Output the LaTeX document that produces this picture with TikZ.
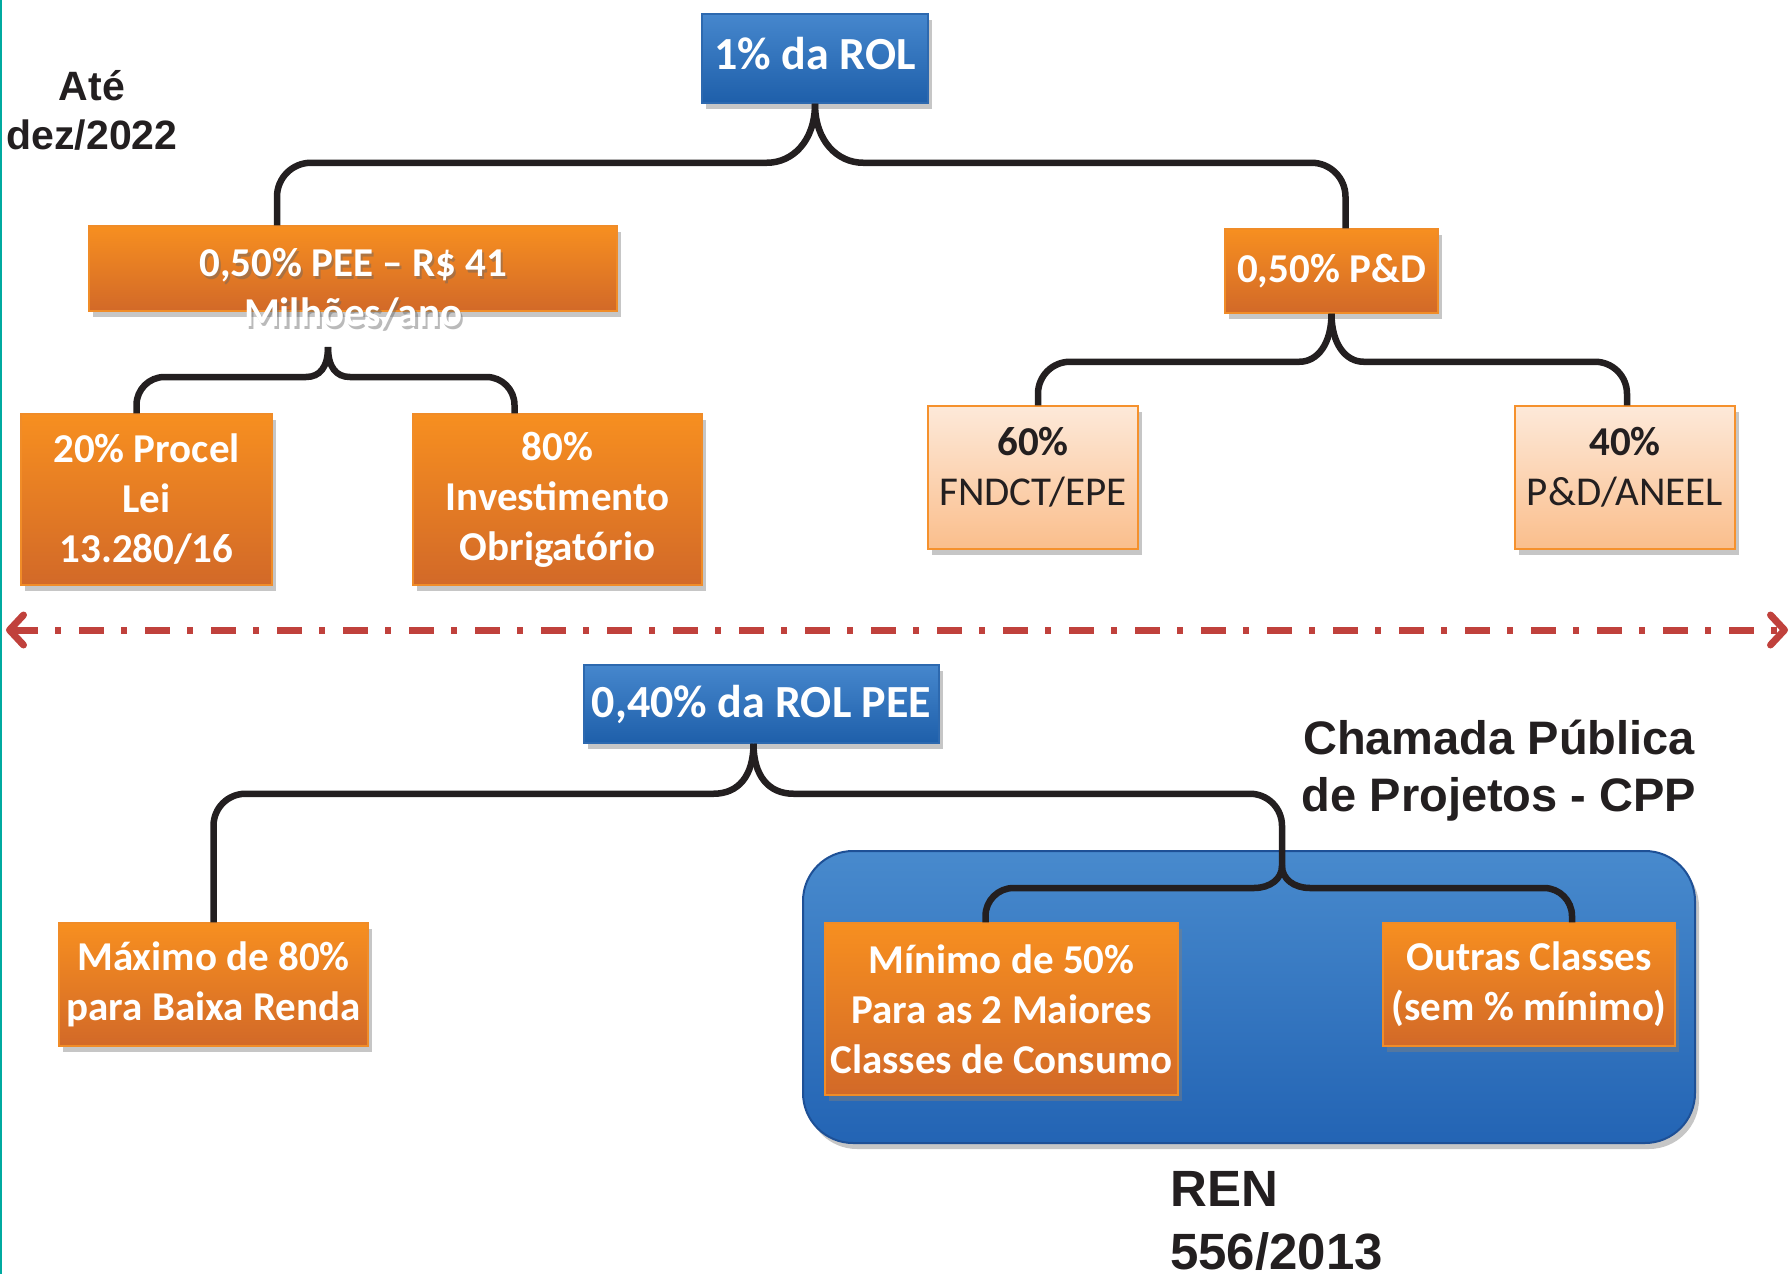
\documentclass[tikz,border=0pt]{standalone}
\usepackage{fontspec}
\setmainfont{Carlito}
\newfontfamily\labelfont{Liberation Sans}
\usetikzlibrary{shadows,arrows.meta}

\begin{document}
\begin{tikzpicture}[x=1pt,y=-1pt,
	boxshadow/.style={drop shadow={opacity=0.45,shadow xshift=4pt,shadow yshift=-6pt}},
	bluebox/.style={draw=cblueedge,line width=1.5pt,top color=cbluetop,bottom color=cbluebot,text=white,font=\bfseries\fontsize{46}{55}\selectfont,inner sep=0pt,boxshadow},
	orangebox/.style={draw=corangeedge,line width=1.5pt,top color=corangetop,bottom color=corangebot,text=white,font=\bfseries\fontsize{41}{50}\selectfont,align=center,inner sep=0pt,boxshadow},
	peachbox/.style={draw=cpeachedge,line width=1.5pt,top color=cpeachtop,bottom color=cpeachbot,inner sep=0pt,boxshadow},
	peachtext/.style={text=ctext,font=\fontsize{41}{50}\selectfont,align=center,inner sep=0pt},
	bigtext/.style={text=ctext,font=\labelfont\bfseries,inner sep=0pt},
	brace/.style={draw=cbrace,line width=6.5pt},
	split/.style={draw=cdash,line width=7pt,dash pattern=on 25pt off 17pt on 6pt off 18pt,{Straight Barb[length=14pt,width=30pt,round]}-{Straight Barb[length=14pt,width=30pt,round]}}]
\definecolor{cbluetop}{RGB}{70,135,205}      %box blue
\definecolor{cbluebot}{RGB}{30,95,170}
\definecolor{cblueedge}{RGB}{45,105,175}
\definecolor{corangetop}{RGB}{247,143,32}    %orange
\definecolor{corangebot}{RGB}{210,105,40}
\definecolor{corangeedge}{RGB}{240,140,40}
\definecolor{cpeachtop}{RGB}{253,233,217}    %light orange
\definecolor{cpeachbot}{RGB}{250,190,140}
\definecolor{cpeachedge}{RGB}{245,145,45}
\definecolor{careatop}{RGB}{72,138,205}
\definecolor{careabot}{RGB}{35,100,180}
\definecolor{careaedge}{RGB}{30,80,150}
\definecolor{cbrace}{RGB}{35,31,32}
\definecolor{cdash}{RGB}{192,65,60}
\definecolor{cteal}{RGB}{0,170,160}
\definecolor{ctext}{RGB}{35,31,32}
\useasboundingbox (0,0) rectangle (1792,1274);
\draw[cteal,line width=3pt] (0,0) -- (0,1274);

% top half
\node[bigtext,align=center,font=\labelfont\bfseries\fontsize{41}{49}\selectfont] (until) at (92,110) {Até\\dez/2022};
\node[bluebox,minimum width=226pt,minimum height=89pt] (rol) at (815,58.5) {\raisebox{10pt}{1\% da ROL}};
\node[orangebox,minimum width=528pt,minimum height=85pt] (pee) at (353,268.5) {};
\node[text=black!60,opacity=0.45,font=\bfseries\fontsize{41}{50}\selectfont,align=center,inner sep=0pt] (peeShadow) at (355.5,291) {0,50\% PEE – R\$ 41\\Milhões/ano};
\node[text=white,font=\bfseries\fontsize{41}{50}\selectfont,align=center,inner sep=0pt] (peeText) at (353,288) {0,50\% PEE – R\$ 41\\Milhões/ano};
\node[orangebox,minimum width=213pt,minimum height=84pt] (pd) at (1331.5,271) {0,50\% P\&D};
\node[orangebox,minimum width=251pt,minimum height=171pt] (procel) at (146.5,499.5) {20\% Procel\\Lei\\13.280/16};
\node[orangebox,minimum width=289pt,minimum height=171pt] (invest) at (557.5,499.5) {80\%\\Investimento\\Obrigatório};
\node[peachbox,minimum width=210pt,minimum height=143pt] (fndct) at (1033,477.5) {};
\node[peachtext] (fndctText) at (1033,467) {\textbf{60\%}\\FNDCT/EPE};
\node[peachbox,minimum width=220pt,minimum height=143pt] (aneel) at (1625,477.5) {};
\node[peachtext] (aneelText) at (1625,467) {\textbf{40\%}\\P\&D/ANEEL};

\draw[brace] (rol.south) .. controls +(0,38) and +(25,0) .. ++(-48,59) [rounded corners=34pt] -| ([xshift=-76pt]pee.north);
\draw[brace] (rol.south) .. controls +(0,38) and +(-25,0) .. ++(48,59) [rounded corners=34pt] -| ([xshift=14pt]pd.north);
\coordinate (peeTip) at (328,347);
\draw[brace] (peeTip) .. controls +(0,20) and +(14,0) .. ++(-22,30) [rounded corners=28pt] -| ([xshift=-10pt]procel.north);
\draw[brace] (peeTip) .. controls +(0,20) and +(-14,0) .. ++(22,30) [rounded corners=28pt] -| ([xshift=-43pt]invest.north);
\draw[brace] (pd.south) .. controls +(0,30) and +(18,0) .. ++(-32,48) [rounded corners=32pt] -| ([xshift=5pt]fndct.north);
\draw[brace] (pd.south) .. controls +(0,30) and +(-18,0) .. ++(32,48) [rounded corners=32pt] -| ([xshift=2pt]aneel.north);

% divider
\coordinate (leftEnd) at (6,630);
\coordinate (rightEnd) at (1788,630);
\draw[split] (leftEnd) -- (rightEnd);

% bottom half
\node[bluebox,minimum width=355pt,minimum height=78pt] (rolpee) at (761.5,704) {0,40\% da ROL PEE};
\node[bigtext,align=center,font=\labelfont\bfseries\fontsize{47}{57}\selectfont] (cpp) at (1499,771) {Chamada Pública\\de Projetos - CPP};
\node[draw=careaedge,line width=2pt,top color=careatop,bottom color=careabot,rounded corners=50pt,minimum width=892pt,minimum height=292pt,boxshadow] (cppArea) at (1249,997) {};
\node[orangebox,minimum width=309pt,minimum height=123pt] (maximo) at (213.5,984.5) {Máximo de 80\%\\para Baixa Renda};
\node[orangebox,minimum width=353pt,minimum height=172pt] (minimo) at (1001.5,1009) {Mínimo de 50\%\\Para as 2 Maiores\\Classes de Consumo};
\node[orangebox,minimum width=292pt,minimum height=123pt] (outras) at (1529,984.5) {Outras Classes\\(sem \% mínimo)};
\node[bigtext,align=left,anchor=north west,font=\labelfont\bfseries\fontsize{51}{63}\selectfont] (ren) at (1170,1171) {REN\\556/2013};

\coordinate (cppTip) at (1282,866);
\draw[brace] ([xshift=-8pt]rolpee.south) .. controls +(0,32) and +(25,0) .. ++(-40,50) [rounded corners=32pt] -| (maximo.north);
\draw[brace] ([xshift=-8pt]rolpee.south) .. controls +(0,32) and +(-25,0) .. ++(40,50) [rounded corners=32pt] -| (cppTip);
\draw[brace] (cppTip) .. controls +(0,13) and +(16,0) .. ++(-28,22) [rounded corners=28pt] -| ([xshift=-16pt]minimo.north);
\draw[brace] (cppTip) .. controls +(0,13) and +(-16,0) .. ++(28,22) [rounded corners=28pt] -| ([xshift=43pt]outras.north);
\end{tikzpicture}
\end{document}
